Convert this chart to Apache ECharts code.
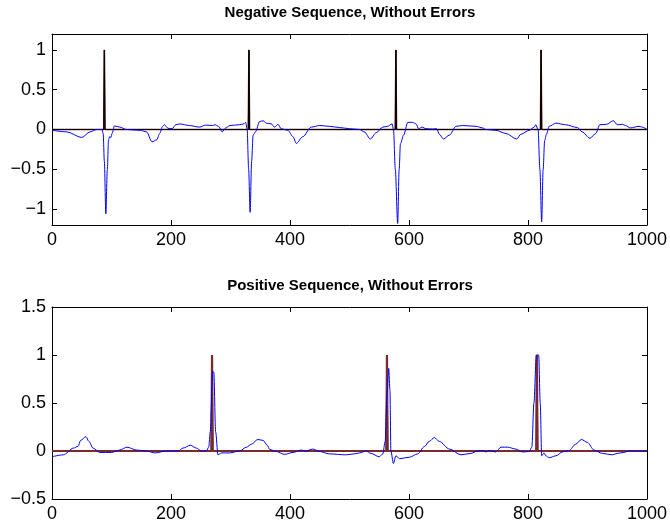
<!DOCTYPE html>
<html><head><meta charset="utf-8">
<script src="https://cdn.jsdelivr.net/npm/echarts@6/dist/echarts.min.js"></script>
<style>html,body{margin:0;padding:0;background:#fff}#c{width:670px;height:524px}</style>
</head><body><div id="c"></div>
<script>
// ---- data ----
const titles = ['Negative Sequence, Without Errors', 'Positive Sequence, Without Errors'];
const xTicks = [0, 200, 400, 600, 800, 1000];
const negYTicks = [-1, -0.5, 0, 0.5, 1];
const posYTicks = [-0.5, 0, 0.5, 1, 1.5];
const negSpikes = [88, 331, 578, 822];
const posSpikes = [269, 563, 815];
const negSignal = [[0,-0.01],[25,-0.03],[50,-0.10],[64,-0.03],[75,0.0],[84,0.0],[86,-0.05],[88,-0.4],[90.5,-1.06],[93,-0.5],[95,-0.13],[97,-0.09],[99,-0.1],[101,-0.05],[105,0.045],[114,0.03],[125,0.0],[148,-0.01],[159,-0.03],[168,-0.155],[176,-0.13],[181,-0.05],[186,0.04],[189,0.06],[195,0.015],[202,0.01],[208,0.06],[215,0.07],[231,0.05],[248,0.03],[258,0.055],[270,0.05],[274,0.06],[280,0.04],[286,-0.03],[292,0.02],[299,0.05],[315,0.06],[322,0.07],[325.5,0.09],[328,0.0],[330.5,-0.5],[333,-1.04],[335.5,-0.4],[338,-0.07],[342,-0.03],[349,0.1],[355,0.11],[360,0.08],[368.6,0.07],[374,0.03],[380,0.065],[385,0.01],[396.5,-0.01],[405,-0.09],[410.6,-0.175],[421.6,-0.09],[435.7,0.03],[450,0.05],[466,0.04],[483,0.025],[500,0.01],[517,0.0],[525,-0.03],[535,-0.12],[545,-0.04],[556,0.03],[564,0.04],[571.6,0.07],[574,0.0],[577,-0.5],[581,-1.18],[583.5,-0.5],[585.6,-0.18],[591,-0.07],[598,0.09],[606,0.09],[612,0.07],[616,0.01],[622,0.03],[628.6,0.01],[640,0.005],[646.5,0.01],[651,-0.06],[658,-0.12],[668,-0.07],[679,0.04],[690,0.05],[712.6,0.04],[723.7,0.02],[729,0.0],[746,-0.01],[763,-0.05],[781,-0.12],[788,-0.06],[802,-0.01],[810.6,0.03],[813,0.06],[817,0.0],[820,-0.5],[823,-1.16],[825.5,-0.5],[828,-0.14],[831,-0.06],[835.6,0.04],[847,0.08],[863,0.06],[883,0.025],[891,-0.03],[904,-0.11],[914,-0.05],[920.6,0.06],[932,0.065],[943.5,0.11],[950,0.06],[958.6,0.065],[964,0.05],[972,0.02],[986.6,0.04],[992,0.03],[1000,0.0]];
const posSignal = [[0,-0.06],[19,-0.04],[36,0.03],[44,0.05],[48,0.11],[57,0.15],[62,0.1],[69,0.03],[80.5,-0.015],[100,-0.015],[114,0.01],[126,0.04],[142,0.01],[159,0.0],[173,-0.02],[192,0.0],[212,0.0],[220,0.03],[232.6,0.06],[242.7,0.03],[251,0.0],[259.5,0.0],[263.4,0.04],[266,0.2],[270,0.83],[272,0.82],[275,0.2],[279,-0.04],[285,-0.02],[298.6,-0.02],[315,0.0],[327,0.04],[335,0.07],[346,0.12],[355,0.11],[361.8,0.06],[366,0.015],[377,-0.005],[391,-0.035],[405,-0.015],[419,0.01],[427,0.0],[438,0.02],[450,-0.005],[466,-0.03],[494,-0.04],[508,-0.03],[517,-0.02],[528,0.0],[536,-0.025],[550,-0.06],[556,-0.03],[560,0.1],[563,0.6],[566,0.86],[568,0.63],[569.6,0.0],[573.8,-0.13],[578,-0.05],[584,-0.08],[600.7,-0.065],[614.6,-0.03],[625.8,0.045],[634,0.1],[642.6,0.14],[651,0.1],[668,0.02],[687.4,-0.04],[704,-0.025],[715,0.0],[723.5,0.005],[729,-0.01],[734.6,0.005],[746,-0.01],[754.6,0.04],[765.6,0.04],[779.6,0.02],[790.8,-0.01],[802,-0.005],[806.5,0.04],[810,0.5],[814,1.0],[818,1.0],[820.6,0.5],[823,-0.05],[827,-0.02],[830,-0.05],[835.6,-0.07],[847,-0.05],[858,-0.01],[869,0.005],[880,0.07],[889.8,0.12],[899.8,0.09],[911,0.01],[925,-0.025],[941.8,-0.04],[950,-0.025],[961,-0.015],[970,0.0],[981,0.0],[1000,0.0]];

// ---- build ----
function impulses(spikes) {
  const d = [[0, 0]];
  spikes.forEach(s => { d.push([s - 1, 0], [s, 1], [s + 1, 0]); });
  d.push([1000, 0]);
  return d;
}
const FONT = 'Liberation Sans';
const fmt = v => String(v).replace('-', '\u2212');
function axesFor(gi, yMin, yMax, yTicks) {
  const tick = {show: true, inside: true, length: 5, lineStyle: {color: '#000', width: 1}};
  const line = {show: true, onZero: false, lineStyle: {color: '#000', width: 1}};
  const xs = [
    {type: 'value', gridIndex: gi, min: 0, max: 1000, interval: 200, position: 'bottom',
     axisLine: line, axisTick: tick, splitLine: {show: false},
     axisLabel: {show: true, color: '#000', fontFamily: FONT, fontSize: 18, margin: 6, formatter: fmt}},
    {type: 'value', gridIndex: gi, min: 0, max: 1000, interval: 200, position: 'top',
     axisLine: line, axisTick: tick, splitLine: {show: false}, axisLabel: {show: false}}
  ];
  const ys = [
    {type: 'value', gridIndex: gi, min: yMin, max: yMax, position: 'left',
     axisLine: line, splitLine: {show: false},
     axisTick: Object.assign({customValues: yTicks}, tick),
     axisLabel: {show: true, customValues: yTicks, color: '#000', fontFamily: FONT, fontSize: 18, margin: 6, formatter: fmt}},
    {type: 'value', gridIndex: gi, min: yMin, max: yMax, position: 'right',
     axisLine: line, splitLine: {show: false},
     axisTick: Object.assign({customValues: yTicks}, tick), axisLabel: {show: false}}
  ];
  return {xs, ys};
}
const a0 = axesFor(0, -1.2, 1.2, negYTicks);
const a1 = axesFor(1, -0.5, 1.5, posYTicks);
const lineS = (xi, yi, data, color, width, z, smooth) => ({
  type: 'line', xAxisIndex: xi, yAxisIndex: yi, data: data, showSymbol: false, symbol: 'none',
  smooth: smooth || false, smoothMonotone: 'x', animation: false, silent: true, z: z,
  lineStyle: {color: color, width: width}
});
const titleStyle = {fontFamily: FONT, fontSize: 15, fontWeight: 'bold', fill: '#000', textAlign: 'center', textVerticalAlign: 'middle'};
const option = {
  backgroundColor: '#fff',
  animation: false,
  graphic: [
    {type: 'text', x: 350, y: 13, style: Object.assign({text: titles[0]}, titleStyle)},
    {type: 'text', x: 350, y: 286, style: Object.assign({text: titles[1]}, titleStyle)}
  ],
  grid: [
    {left: 52, top: 34, width: 596, height: 191},
    {left: 52, top: 307, width: 596, height: 192}
  ],
  xAxis: [a0.xs[0], a0.xs[1], a1.xs[0], a1.xs[1]],
  yAxis: [a0.ys[0], a0.ys[1], a1.ys[0], a1.ys[1]],
  series: [
    lineS(0, 0, impulses(negSpikes), '#7a1a1a', 1.6, 2),
    lineS(0, 0, impulses(negSpikes), '#000000', 1, 3),
    lineS(0, 0, negSignal, '#0000ff', 1, 4, 0.3),
    lineS(2, 2, impulses(posSpikes), '#000000', 1.5, 2),
    lineS(2, 2, impulses(posSpikes), '#7a2a2a', 2.2, 3),
    lineS(2, 2, posSignal, '#0000ff', 1, 4, 0.3)
  ]
};
const chart = echarts.init(document.getElementById('c'), null, {renderer: 'canvas'});
chart.setOption(option);
</script></body></html>
